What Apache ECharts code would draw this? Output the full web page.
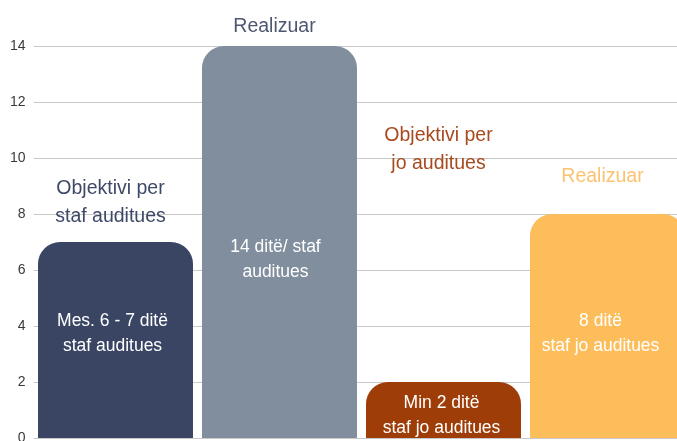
<!DOCTYPE html>
<html>
<head>
<meta charset="utf-8">
<script src="https://cdn.jsdelivr.net/npm/echarts@6/dist/echarts.min.js"></script>
<style>
    html, body { margin: 0; padding: 0; background: #fff; }
    #main { width: 677px; height: 441px; }
</style>
</head>
<body>
<div id="main"></div>
<script>
    // data
    var categories = ['A', 'B', 'C', 'D'];
    var values = [7, 14, 2, 8];
    var topLabels = ['Objektivi per\nstaf auditues', 'Realizuar', 'Objektivi per\njo auditues', 'Realizuar'];
    var innerLabels = ['Mes. 6 - 7 ditë\nstaf auditues', '14 ditë/ staf\nauditues', 'Min 2 ditë\nstaf jo auditues', '8 ditë\nstaf jo auditues'];

    // styles
    var barColors = ['#394563', '#818e9d', '#9e3d07', '#fdbd5b'];
    var topColors = ['#3e4967', '#4d5772', '#a84a1e', '#fcc270'];
    var topDist = [11, 5, 204, 23];
    var innerY = [92, 213.5, 33.5, 120];
    var innerDx = [-3, -4, -2, -7];

    var font = '"Liberation Sans", Arial, sans-serif';

    var myChart = echarts.init(document.getElementById('main'));

    var mainData = values.map(function (v, i) {
        return {
            value: v,
            itemStyle: { color: barColors[i] },
            label: {
                show: true,
                position: 'top',
                distance: topDist[i],
                offset: [-5, 0],
                formatter: topLabels[i],
                color: topColors[i],
                fontSize: 19.5,
                lineHeight: 28.5,
                fontFamily: font
            }
        };
    });
    var innerData = values.map(function (v, i) {
        return {
            value: v,
            label: {
                show: true,
                position: ['50%', innerY[i]],
                offset: [innerDx[i], 0],
                align: 'center',
                verticalAlign: 'middle',
                formatter: innerLabels[i],
                color: '#ffffff',
                fontSize: 17.5,
                lineHeight: 25,
                fontFamily: font
            }
        };
    });

    var option = {
        animation: false,
        grid: {
            left: 33.5,
            top: 46,
            width: 656,
            bottom: 3,
            containLabel: false,
            outerBoundsMode: 'none'
        },
        xAxis: {
            type: 'category',
            data: categories,
            axisLine: { show: false },
            axisTick: { show: false },
            axisLabel: { show: false }
        },
        yAxis: {
            type: 'value',
            min: 0,
            max: 14,
            interval: 2,
            axisLine: { show: false },
            axisTick: { show: false },
            axisLabel: {
                color: '#3a3a3a',
                fontSize: 14,
                margin: 8,
                fontFamily: font
            },
            splitLine: { lineStyle: { color: '#c9c9c9', width: 1 } }
        },
        series: [
            {
                type: 'bar',
                barCategoryGap: '5.5%',
                itemStyle: { borderRadius: [22, 22, 0, 0] },
                data: mainData
            },
            {
                type: 'bar',
                barGap: '-100%',
                barCategoryGap: '5.5%',
                itemStyle: { color: 'rgba(0,0,0,0)' },
                data: innerData
            }
        ]
    };
    myChart.setOption(option);
</script>
</body>
</html>
